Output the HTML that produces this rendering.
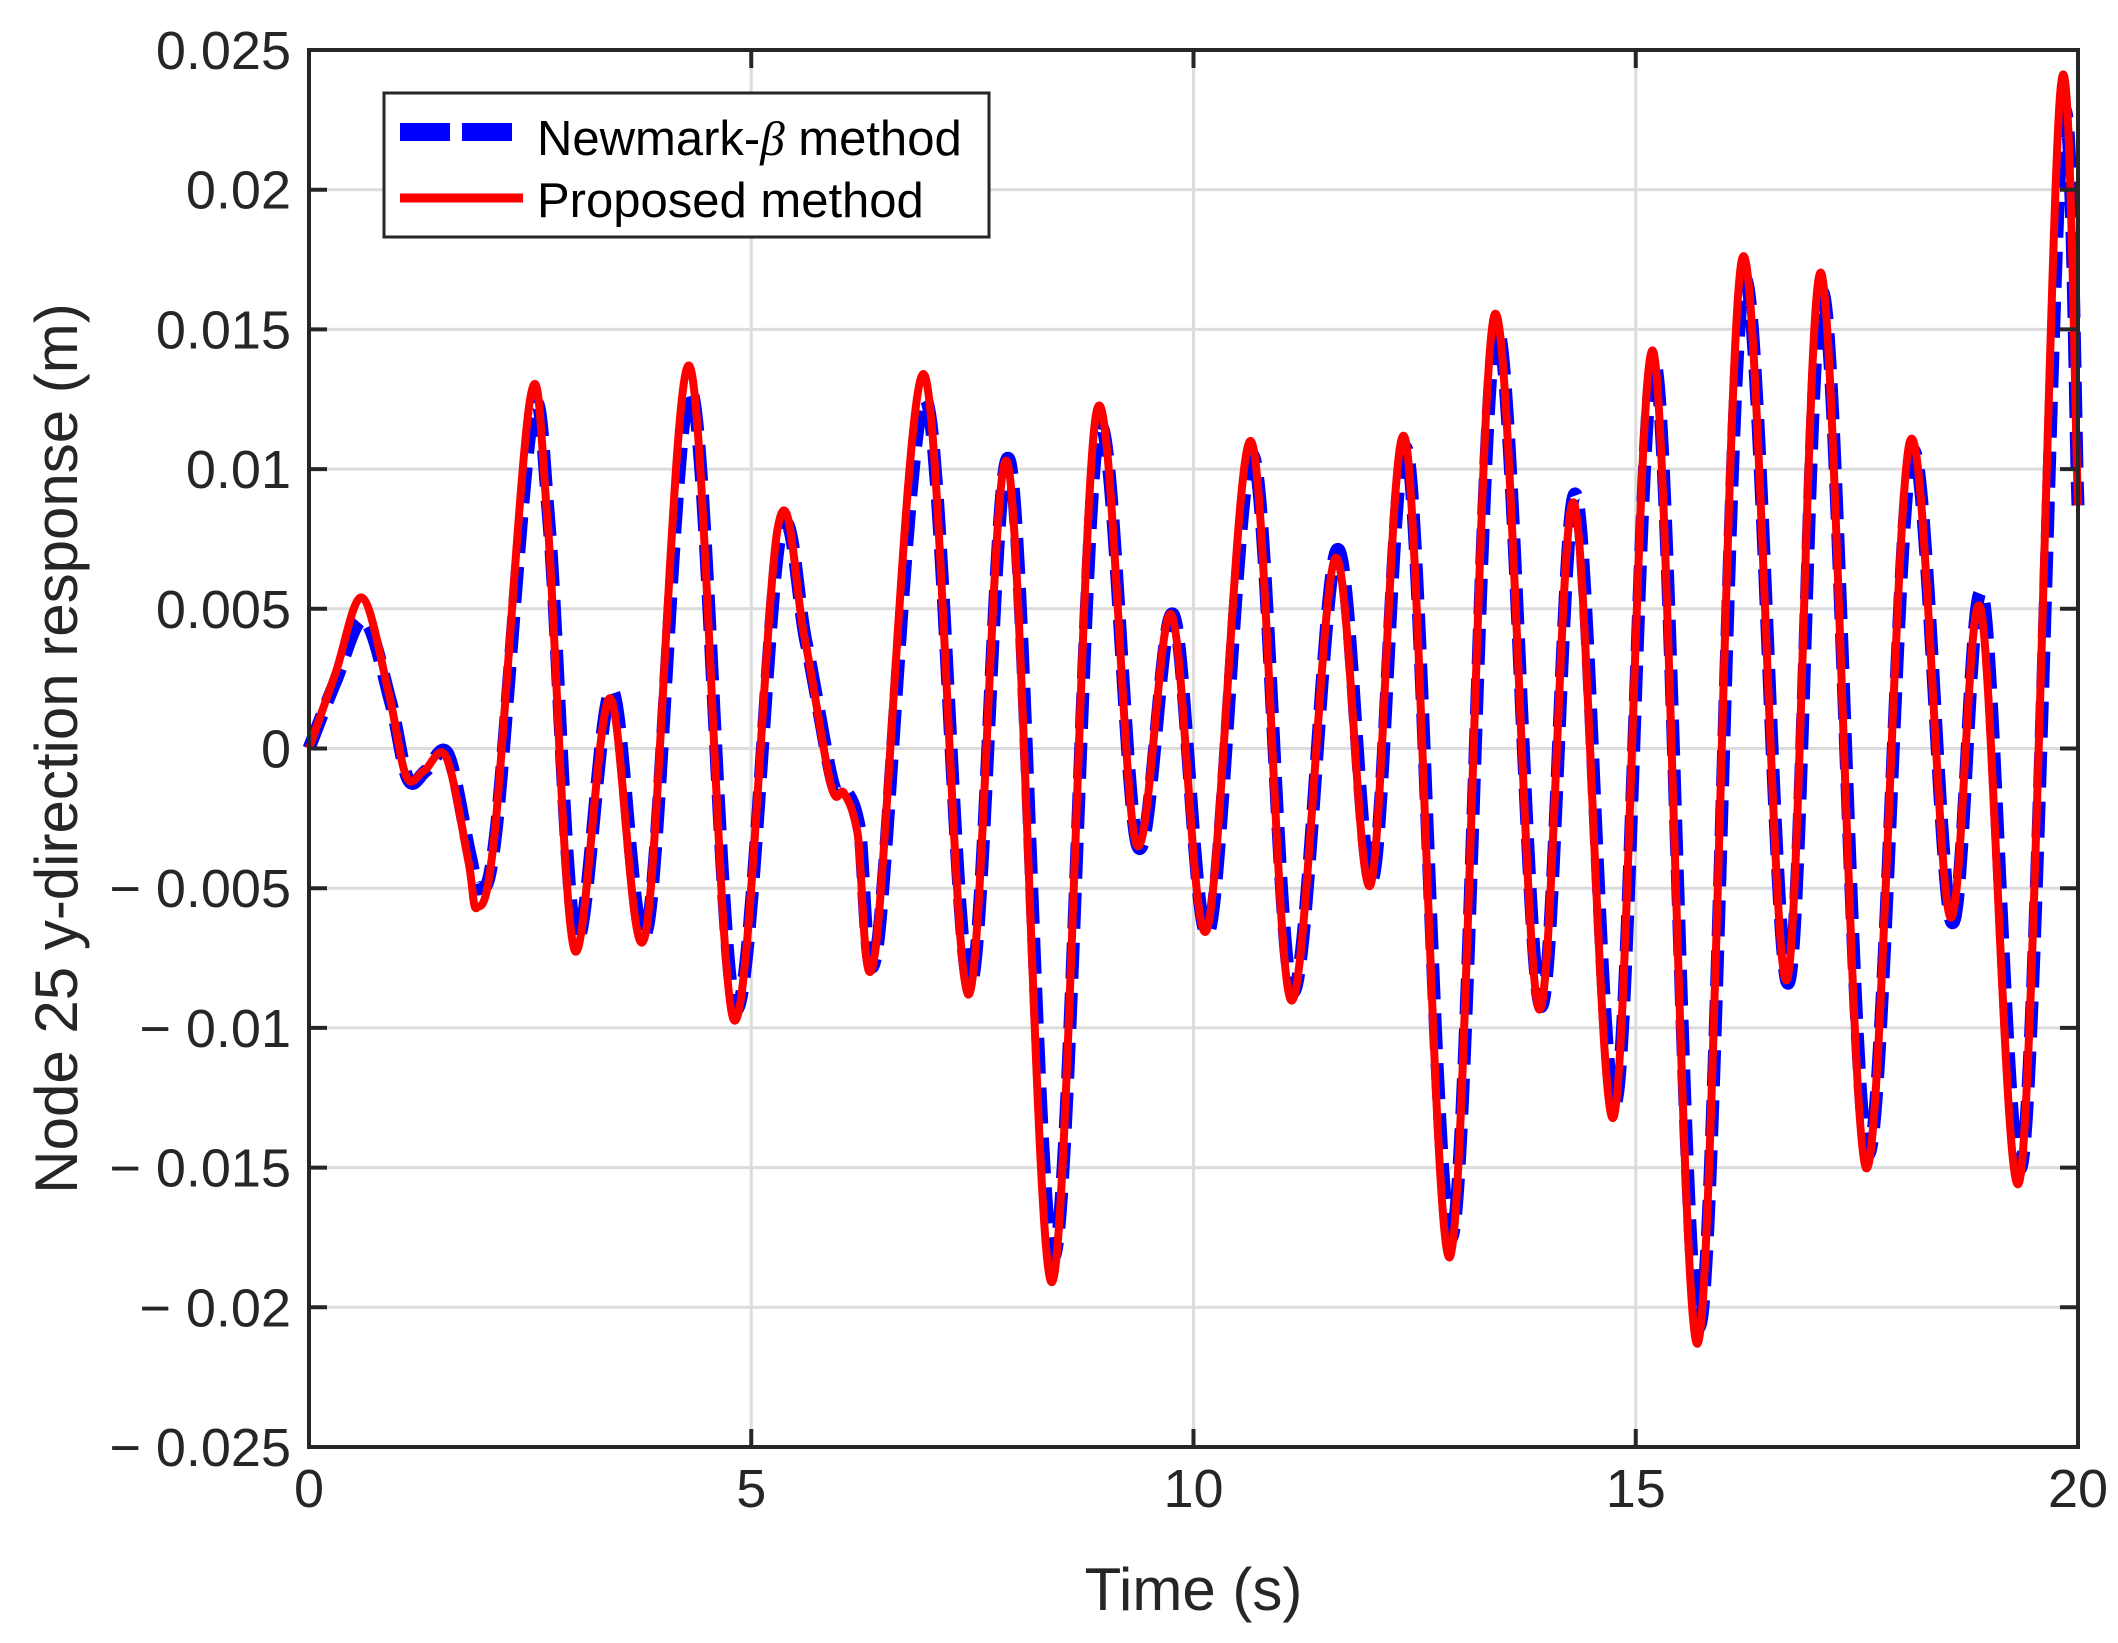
<!DOCTYPE html>
<html><head><meta charset="utf-8"><style>
html,body{margin:0;padding:0;background:#fff;}
svg{display:block;font-family:"Liberation Sans",Arial,sans-serif;}
</style></head><body>
<svg id="chart" width="2118" height="1643" viewBox="0 0 2118 1643" xmlns="http://www.w3.org/2000/svg">
<g id="grid"></g>
<g id="series"></g>
<g id="axes"></g>
</svg>
<script>
const xTicks=[0,5,10,15,20];
const yTicks=[-0.025,-0.02,-0.015,-0.01,-0.005,0,0.005,0.01,0.015,0.02,0.025];
const yTickLabels=["\u2212 0.025","\u2212 0.02","\u2212 0.015","\u2212 0.01","\u2212 0.005","0","0.005","0.01","0.015","0.02","0.025"];
const redT=[0,0.3,0.6,0.9,1.1,1.3,1.55,1.8,1.9,2.1,2.5,2.7,3.0,3.4,3.8,4.3,4.8,5.3,5.6,5.9,6.05,6.2,6.4,6.95,7.45,7.9,8.4,8.9,9.35,9.75,10.15,10.65,11.1,11.6,12.0,12.4,12.9,13.4,13.9,14.3,14.75,15.2,15.7,16.2,16.7,17.1,17.6,18.1,18.55,18.9,19.35,19.8,20];
const redY=[0,0.0027,0.0054,0.002,-0.001,-0.0008,-0.0003,-0.004,-0.0057,-0.003,0.0125,0.008,-0.0072,0.0018,-0.0067,0.0137,-0.0097,0.0079,0.004,-0.0013,-0.0016,-0.003,-0.0073,0.0134,-0.0088,0.0102,-0.0191,0.012,-0.0034,0.0048,-0.0065,0.011,-0.009,0.0068,-0.0049,0.011,-0.0182,0.0155,-0.0093,0.0088,-0.0132,0.0142,-0.0213,0.0175,-0.0083,0.017,-0.015,0.011,-0.006,0.005,-0.0153,0.0235,0.0087];
const blueT=[0,0.3,0.62,0.92,1.12,1.32,1.57,1.82,1.93,2.12,2.52,2.72,3.02,3.42,3.82,4.32,4.82,5.32,5.62,5.92,6.07,6.22,6.42,6.97,7.47,7.92,8.42,8.92,9.37,9.77,10.17,10.67,11.12,11.62,12.02,12.42,12.92,13.42,13.92,14.32,14.77,15.22,15.72,16.22,16.72,17.12,17.62,18.12,18.57,18.92,19.37,19.82,20];
const blueY=[0,0.0024,0.0046,0.0017,-0.0011,-0.0008,-0.0002,-0.0038,-0.005,-0.0028,0.0118,0.0078,-0.0068,0.0021,-0.0065,0.0128,-0.0093,0.0075,0.0038,-0.0012,-0.0015,-0.0028,-0.0072,0.0125,-0.0085,0.0103,-0.0182,0.0113,-0.0035,0.0048,-0.0066,0.0105,-0.0087,0.0071,-0.0047,0.0106,-0.0175,0.015,-0.0092,0.0091,-0.0127,0.0138,-0.0207,0.0167,-0.0084,0.0163,-0.0145,0.0106,-0.0062,0.0055,-0.0148,0.0222,0.0087];
const L=309,R=2078,T=50,B=1447;
const sx=t=>L+(t-0)/(20-0)*(R-L);
const sy=v=>B-(v+0.025)/0.05*(B-T);
const NS="http://www.w3.org/2000/svg";
function mk(tag,attrs,parent){const e=document.createElementNS(NS,tag);for(const k in attrs)e.setAttribute(k,attrs[k]);parent.appendChild(e);return e;}
const grid=document.getElementById('grid'),series=document.getElementById('series'),axes=document.getElementById('axes');
xTicks.forEach(t=>{const l=mk('line',{x1:sx(t),x2:sx(t),y1:T,y2:B,stroke:'#dcdcdc','stroke-width':3},grid);

});
yTicks.forEach(v=>{const l=mk('line',{x1:L,x2:R,y1:sy(v),y2:sy(v),stroke:'#dcdcdc','stroke-width':3},grid);

});
function pathD(ts,vs){const P=ts.map((t,i)=>[sx(t),sy(vs[i])]);let d='M'+P[0][0]+','+P[0][1];
for(let i=0;i<P.length-1;i++){const p0=P[Math.max(i-1,0)],p1=P[i],p2=P[i+1],p3=P[Math.min(i+2,P.length-1)];
const c1=[p1[0]+(p2[0]-p0[0])/6,p1[1]+(p2[1]-p0[1])/6],c2=[p2[0]-(p3[0]-p1[0])/6,p2[1]-(p3[1]-p1[1])/6];
d+=' C'+c1+' '+c2+' '+p2;}return d;}
const bl=mk('path',{d:pathD(blueT,blueY),fill:'none',stroke:'#0000ff','stroke-width':13,'stroke-dasharray':'36,14'},series);


const rl=mk('path',{d:pathD(redT,redY),fill:'none',stroke:'#ff0000','stroke-width':8,'stroke-linejoin':'round'},series);


const box=mk('rect',{x:L,y:T,width:R-L,height:B-T,fill:'none',stroke:'#262626','stroke-width':4},axes);


xTicks.forEach(t=>{mk('line',{x1:sx(t),x2:sx(t),y1:B,y2:B-18,stroke:'#262626','stroke-width':4},axes);mk('line',{x1:sx(t),x2:sx(t),y1:T,y2:T+18,stroke:'#262626','stroke-width':4},axes);
const tx=mk('text',{x:sx(t),y:B+60,'text-anchor':'middle','font-size':54,fill:'#262626'},axes);tx.textContent=t;

});
yTicks.forEach((v,i)=>{mk('line',{x1:L,x2:L+18,y1:sy(v),y2:sy(v),stroke:'#262626','stroke-width':4},axes);mk('line',{x1:R,x2:R-18,y1:sy(v),y2:sy(v),stroke:'#262626','stroke-width':4},axes);
const tx=mk('text',{x:L-18,y:sy(v)+19,'text-anchor':'end','font-size':54,fill:'#262626'},axes);tx.textContent=yTickLabels[i];

});
const xl=mk('text',{x:(L+R)/2,y:1610,'text-anchor':'middle','font-size':60,fill:'#262626'},axes);xl.textContent='Time (s)';


const yl=mk('text',{x:0,y:0,'text-anchor':'middle','font-size':60,fill:'#262626',transform:'translate(77,'+((T+B)/2)+') rotate(-90)'},axes);yl.textContent='Node 25 y-direction response (m)';


const lg=mk('g',{},axes);


mk('rect',{x:384,y:93,width:605,height:144,fill:'#fff',stroke:'#262626','stroke-width':3},lg);
mk('line',{x1:400,x2:518,y1:132,y2:132,stroke:'#0000ff','stroke-width':18,'stroke-dasharray':'50,12'},lg);
mk('line',{x1:400,x2:523,y1:198,y2:198,stroke:'#ff0000','stroke-width':9},lg);
const t1=mk('text',{x:537,y:155,'font-size':49,fill:'#000'},lg);
t1.innerHTML='Newmark-<tspan font-family="Liberation Serif" font-style="italic">β</tspan> method';


const t2=mk('text',{x:537,y:217,'font-size':49,fill:'#000'},lg);t2.textContent='Proposed method';


</script>
</body></html>
